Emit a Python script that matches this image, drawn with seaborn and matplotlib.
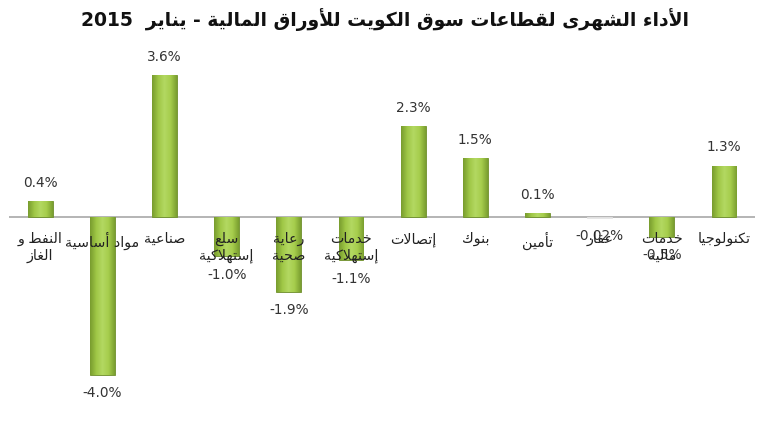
import re
import numpy as np
import pandas as pd
import seaborn as sns
import matplotlib.pyplot as plt
from matplotlib.colors import LinearSegmentedColormap

# data
sectors = ['النفط و\nالغاز', 'مواد أساسية', 'صناعية', 'سلع\nإستهلاكية', 'رعاية\nصحية',
           'خدمات\nإستهلاكية', 'إتصالات', 'بنوك', 'تأمين', 'عقار', 'خدمات\nمالية', 'تكنولوجيا']
changes = [0.4, -4.0, 3.6, -1.0, -1.9, -1.1, 2.3, 1.5, 0.1, -0.02, -0.5, 1.3]
value_labels = ['0.4%', '-4.0%', '3.6%', '-1.0%', '-1.9%', '-1.1%', '2.3%', '1.5%', '0.1%',
                '-0.02%', '-0.5%', '1.3%']
title = 'الأداء الشهرى لقطاعات سوق الكويت للأوراق المالية - يناير  2015'

# matplotlib has no arabic shaping, so map letters to presentation forms by hand
FOUR = {'ئ': 0xFE89, 'ب': 0xFE8F, 'ت': 0xFE95, 'ث': 0xFE99, 'ج': 0xFE9D, 'ح': 0xFEA1,
        'خ': 0xFEA5, 'س': 0xFEB1, 'ش': 0xFEB5, 'ص': 0xFEB9, 'ض': 0xFEBD, 'ط': 0xFEC1,
        'ظ': 0xFEC5, 'ع': 0xFEC9, 'غ': 0xFECD, 'ف': 0xFED1, 'ق': 0xFED5, 'ك': 0xFED9,
        'ل': 0xFEDD, 'م': 0xFEE1, 'ن': 0xFEE5, 'ه': 0xFEE9, 'ي': 0xFEF1}
TWO = {'آ': 0xFE81, 'أ': 0xFE83, 'ؤ': 0xFE85, 'إ': 0xFE87, 'ا': 0xFE8D, 'ة': 0xFE93,
       'د': 0xFEA9, 'ذ': 0xFEAB, 'ر': 0xFEAD, 'ز': 0xFEAF, 'و': 0xFEED, 'ى': 0xFEEF}
ONE = {'ء': 0xFE80}
LAMALEF = {'آ': 0xFEF5, 'أ': 0xFEF7, 'إ': 0xFEF9, 'ا': 0xFEFB}


def shape_line(s):
    out = []
    i = 0
    while i < len(s):
        c = s[i]
        prev_j = i > 0 and s[i - 1] in FOUR
        if c == 'ل' and i + 1 < len(s) and s[i + 1] in LAMALEF:
            out.append(chr(LAMALEF[s[i + 1]] + (1 if prev_j else 0)))
            i += 2
            continue
        next_j = i + 1 < len(s) and (s[i + 1] in FOUR or s[i + 1] in TWO or s[i + 1] in ONE)
        if c in FOUR:
            idx = {(False, False): 0, (True, False): 1, (False, True): 2, (True, True): 3}[(prev_j, next_j)]
            out.append(chr(FOUR[c] + idx))
        elif c in TWO:
            out.append(chr(TWO[c] + (1 if prev_j else 0)))
        elif c in ONE:
            out.append(chr(ONE[c]))
        else:
            out.append(c)
        i += 1
    vis = ''.join(out)[::-1]
    return re.sub(r'[0-9]+', lambda m: m.group(0)[::-1], vis)


def shape(s):
    return '\n'.join(shape_line(line) for line in s.split('\n'))


df = pd.DataFrame({'sector': [shape(s) for s in sectors], 'change': changes})

sns.set_style('white')
plt.rcParams['font.family'] = ['DejaVu Sans']

fig = plt.figure(figsize=(7.7, 4.25), dpi=100)
ax = fig.add_axes([0.0117, 0.034, 0.969, 0.8645])

sns.barplot(data=df, x='sector', y='change', color='#9bc343', width=0.4,
            edgecolor='#6e8f2a', linewidth=0.6, ax=ax)

# horizontal gradient inside each bar (excel bevel look)
cmap = LinearSegmentedColormap.from_list('bar', ['#789c2e', '#9fc746', '#b3d862', '#a6cd4c', '#7a9f30'])
grad = np.linspace(0, 1, 64).reshape(1, -1)
for p in ax.patches:
    x0, y0 = p.get_x(), p.get_y()
    w, h = p.get_width(), p.get_height()
    if abs(h) < 0.05:
        p.set_facecolor('#e4e4e4')
        p.set_edgecolor('#e4e4e4')
        continue
    im = ax.imshow(grad, extent=[x0, x0 + w, min(y0, y0 + h), max(y0, y0 + h)],
                   aspect='auto', cmap=cmap, zorder=p.get_zorder() + 0.1)
    im.set_clip_path(p)

ax.set_xlim(-0.5, 11.5)
ax.set_ylim(-4.9, 4.4)
ax.axhline(0, color='#a8a8a8', lw=1.2, zorder=0.5)

for i, (v, lab) in enumerate(zip(changes, value_labels)):
    ax.annotate(lab, (i, v), xytext=(0, 8 if v > 0 else -8), textcoords='offset points',
                ha='center', va='bottom' if v > 0 else 'top', fontsize=9.8, color='#333333')
    ax.annotate(df['sector'][i], (i, 0), xytext=(0, -11), textcoords='offset points',
                ha='center', va='top', fontsize=10.3, color='#222222', linespacing=1.2)

ax.set_xticks([])
ax.set_yticks([])
ax.set_xlabel('')
ax.set_ylabel('')
sns.despine(ax=ax, left=True, bottom=True)

fig.text(0.5, 0.953, shape(title), ha='center', va='center', fontsize=13.5,
         fontweight='bold', color='#111111')

fig.savefig('out.png', dpi=100)
